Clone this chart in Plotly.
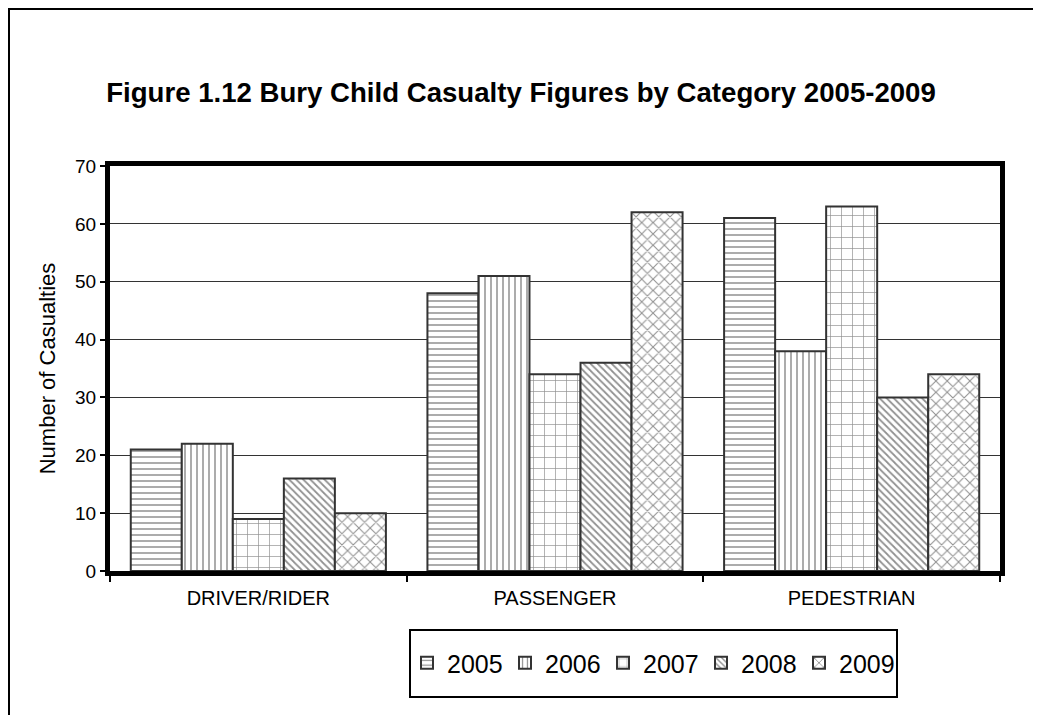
import plotly.graph_objects as go

categories = ["DRIVER/RIDER", "PASSENGER", "PEDESTRIAN"]
years = ["2005", "2006", "2007", "2008", "2009"]
v2005 = [21, 48, 61]
v2006 = [22, 51, 38]
v2007 = [9, 34, 63]
v2008 = [16, 36, 30]
v2009 = [10, 62, 34]
series = [v2005, v2006, v2007, v2008, v2009]
y_ticks = [0, 10, 20, 30, 40, 50, 60, 70]

patterns = [("-", 6, 0.25), ("|", 6, 0.25), ("+", 11, 0.12), ("\\", 5, 0.35), ("x", 8, 0.25)]

fig = go.Figure()
for name, vals, (shape, size, sol) in zip(years, series, patterns):
    fig.add_trace(go.Bar(
        x=categories, y=vals, name=name,
        marker=dict(color="white",
                    line=dict(color="#333333", width=2),
                    pattern=dict(shape=shape, size=size, solidity=sol,
                                 fgcolor="#222222", bgcolor="white", fillmode="overlay")),
    ))

OFF = 8  # page body margin
W, H = 1041 - OFF, 715 - OFF
# plot area in reference page pixels
PL, PR, PT, PB = 110, 1000, 166, 571
L, T = PL - OFF, PT - OFF
R, B = W - (PR - OFF), H - (PB - OFF)
pw, ph = PR - PL, PB - PT

def px_x(p):
    return (p - PL) / pw

def px_y(p):
    return (PB - p) / ph

fig.update_layout(
    width=W, height=H,
    margin=dict(l=L, r=R, t=T, b=B),
    paper_bgcolor="white", plot_bgcolor="white",
    barmode="group", bargap=0.14, bargroupgap=0,
    font=dict(family="Liberation Sans, Arial, sans-serif", color="black"),
    title=dict(text="<b>Figure 1.12 Bury Child Casualty Figures by Category 2005-2009</b>",
               x=(521 - OFF) / W, xref="container", xanchor="center",
               y=1 - (92 - OFF) / H, yref="container", yanchor="middle",
               font=dict(size=27.6, color="black")),
    legend=dict(orientation="h", x=px_x(652), xanchor="center",
                y=px_y(663), yanchor="middle",
                font=dict(size=25), borderwidth=0, bgcolor="rgba(0,0,0,0)",
                traceorder="normal", itemwidth=30,
                entrywidth=53, entrywidthmode="pixels"),
    showlegend=True,
    shapes=[
        dict(type="rect", xref="paper", yref="paper",
             x0=px_x(OFF + 1), x1=px_x(1038), y0=px_y(OFF + 1), y1=px_y(740),
             line=dict(color="black", width=2), layer="below"),
        dict(type="rect", xref="paper", yref="paper",
             x0=px_x(410), x1=px_x(897), y0=px_y(630), y1=px_y(697),
             line=dict(color="black", width=2), layer="below"),
    ],
)

fig.update_xaxes(
    showline=True, linecolor="black", linewidth=5, mirror=True,
    ticks="outside", tickson="boundaries", ticklen=6, tickcolor="black", tickwidth=2,
    tickfont=dict(size=20), ticklabelstandoff=5, showgrid=False,
)
fig.update_yaxes(
    range=[0, 70], tickvals=y_ticks,
    showline=True, linecolor="black", linewidth=5, mirror=True,
    ticks="outside", ticklen=5, tickcolor="black", tickwidth=2,
    tickfont=dict(size=19),
    showgrid=True, gridcolor="#333333", gridwidth=1,
    zeroline=False,
    title=dict(text="Number of Casualties", font=dict(size=22), standoff=15),
)

fig.write_html("out.html")
